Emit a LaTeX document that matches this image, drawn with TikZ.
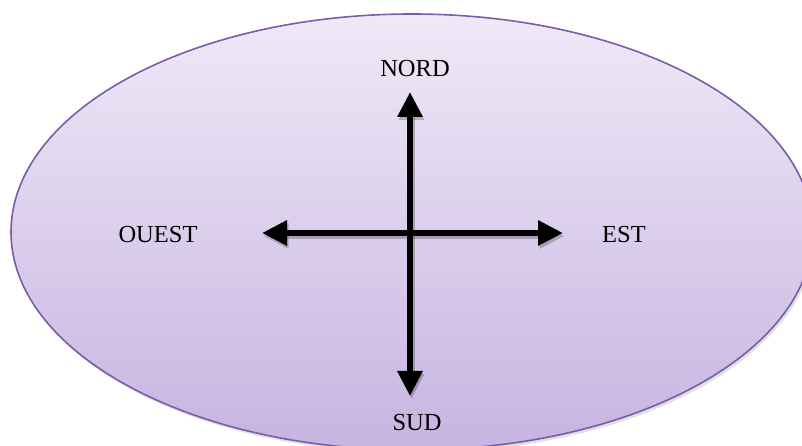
\documentclass[tikz,border=0pt]{standalone}
\usepackage{fontspec}
\setmainfont{Liberation Serif}
\usetikzlibrary{arrows.meta}
\definecolor{ellTop}{HTML}{EFE9F7}
\definecolor{ellBot}{HTML}{C7B4E1}
\definecolor{ellLine}{HTML}{7A5CA8}
\tikzset{
  lbl/.style={font=\fontsize{24.5}{28}\selectfont, text=black, inner sep=0pt},
  dblarr/.style={line width=6pt, black, {Triangle[length=25pt,width=24pt]}-{Triangle[length=25pt,width=24pt]}},
  arrshadow/.style={line width=6pt, black, opacity=0.22, {Triangle[length=25pt,width=24pt]}-{Triangle[length=25pt,width=24pt]}},
}
\begin{document}
\begin{tikzpicture}[x=1pt,y=1pt]
\useasboundingbox (0,0) rectangle (802,446);
\clip (0,0) rectangle (802,446);
% shadow of ellipse
\fill[black, opacity=0.12] (414,211) ellipse [x radius=401, y radius=218];
% ellipse
\path[top color=ellTop, bottom color=ellBot, draw=ellLine, line width=1.6pt]
  (412,214) ellipse [x radius=401, y radius=218];
% labels
\node[lbl] (nord) at (415,377) {NORD};
\node[lbl] (ouest) at (158,211) {OUEST};
\node[lbl] (est) at (624,211) {EST};
\node[lbl] (sud) at (417,23) {SUD};
% arrow tips
\coordinate (ntip) at (410,354);
\coordinate (stip) at (410,50);
\coordinate (wtip) at (262,213);
\coordinate (etip) at (563,213);
% shadows
\draw[arrshadow] ([shift={(1.5,-3)}]wtip) -- ([shift={(1.5,-3)}]etip);
\draw[arrshadow] ([shift={(1.5,-3)}]stip) -- ([shift={(1.5,-3)}]ntip);
% arrows
\draw[dblarr] (wtip) -- (etip);
\draw[dblarr] (stip) -- (ntip);
\end{tikzpicture}
\end{document}
